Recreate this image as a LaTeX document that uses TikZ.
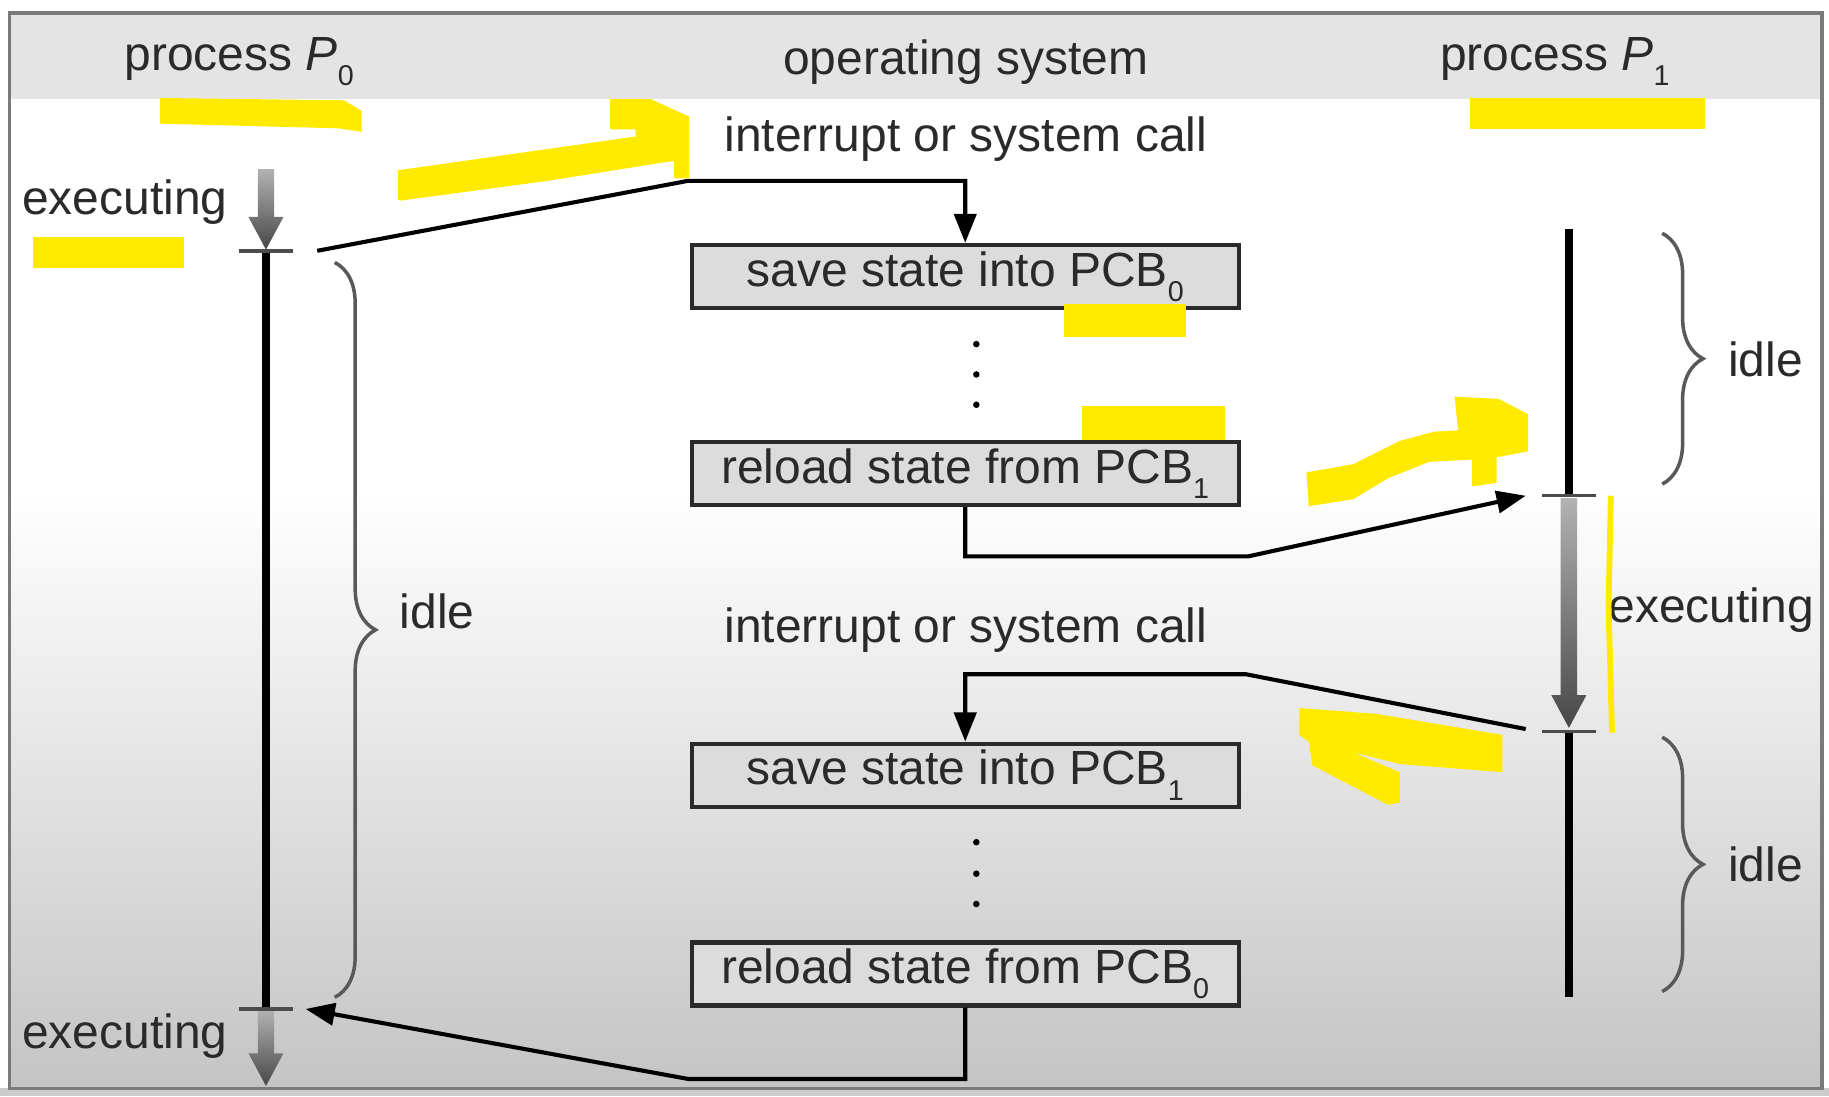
\documentclass[tikz,border=0pt]{standalone}
\usepackage{fontspec}
\setmainfont{Liberation Sans}
\usetikzlibrary{arrows.meta,decorations.pathreplacing,calc}
\definecolor{inkgray}{HTML}{2A2A2A}
\definecolor{bandgray}{HTML}{E4E4E4}
\definecolor{boxgray}{HTML}{DCDCDC}
\definecolor{framegray}{HTML}{7A7A7A}
\definecolor{hilite}{HTML}{FFEA00}
\newcommand{\lowsub}[1]{\raisebox{-0.6ex}{\scriptsize #1}}
\tikzset{
  txt/.style={font=\fontsize{11.7pt}{14pt}\selectfont, text=inkgray, inner sep=0pt, yshift=-0.3mm},
  statebox/.style={rectangle, draw=inkgray, fill=boxgray, line width=0.35mm,
    minimum width=46.9mm, minimum height=5.4mm, inner sep=0pt,
    font=\fontsize{11.7pt}{14pt}\selectfont, text=inkgray},
  flow/.style={-{Triangle[length=2.5mm,width=1.9mm]}, line width=0.35mm, black},
  timeline/.style={line width=0.7mm, black},
  tick/.style={line width=0.3mm, black!70},
  idlebrace/.style={decorate, decoration={brace, amplitude=3.5mm}, line width=0.3mm, black!65},
  execarrow/.style={top color=black!30, bottom color=black!72},
  marker/.style={fill=hilite, draw=none},
}

\begin{document}
\begin{tikzpicture}[x=0.1mm, y=-0.1mm]
  \useasboundingbox (0,0) rectangle (1568,940);
  % background and frame
  \fill[white] (0,0) rectangle (1568,940);
  \fill[black!20] (0,933) rectangle (1568,940);
  \fill[white] (8,85) rectangle (1562,420);
  \shade[top color=white, bottom color=black!23] (8,420) rectangle (1562,933);
  \fill[bandgray] (8,11) rectangle (1562,85);
  \draw[framegray, line width=0.3mm] (8,11) rectangle (1562,933);

  % column headings
  \node[txt] (head0) at (205,50) {process \textit{P}\lowsub{0}};
  \node[txt] (heados) at (828,50) {operating system};
  \node[txt] (head1) at (1333,50) {process \textit{P}\lowsub{1}};

  % operating system steps
  \node[txt] (call0) at (828,116) {interrupt or system call};
  \node[statebox] (save0) at (827.5,237) {save state into PCB\lowsub{0}};
  \node[statebox] (reload1) at (827.5,406) {reload state from PCB\lowsub{1}};
  \node[txt] (call1) at (828,537) {interrupt or system call};
  \node[statebox] (save1) at (827.5,664.5) {save state into PCB\lowsub{1}};
  \node[statebox] (reload0) at (827.5,835) {reload state from PCB\lowsub{0}};
  \foreach \y in {295,321,347,722,749,775}
    \fill[black] (837,\y) circle[radius=0.28mm];

  % time lines
  \coordinate (p0s) at (228,215);
  \coordinate (p0e) at (228,865);
  \coordinate (p1s) at (1345,425);
  \coordinate (p1e) at (1345,627);
  \foreach \x/\ya/\yb in {228/145/214, 228/866/931, 1345/427/624}
    \shade[execarrow] (\x-7,\ya) -- (\x+7,\ya) -- (\x+7,\yb-28) -- (\x+15,\yb-28)
      -- (\x,\yb) -- (\x-15,\yb-28) -- (\x-7,\yb-28) -- cycle;
  \draw[timeline] (p0s) -- (p0e);
  \draw[timeline] (1345,196) -- (p1s);
  \draw[timeline] (p1e) -- (1345,855);
  \foreach \c in {p0s,p0e,p1s,p1e}
    \draw[tick] ([xshift=-2.3mm]\c) -- ([xshift=2.3mm]\c);

  \node[txt] (exec0) at (107,170) {executing};
  \node[txt] (exec2) at (107,885) {executing};
  \node[txt] (exec1) at (1467,520) {executing};

  % idle braces
  \draw[idlebrace] (287,225) -- (287,855);
  \draw[idlebrace] (1425,200) -- (1425,415);
  \draw[idlebrace] (1425,632) -- (1425,850);
  \node[txt, anchor=west] (idle0) at (342,521) {idle};
  \node[txt, anchor=west] (idle1) at (1481,305) {idle};
  \node[txt, anchor=west] (idle2) at (1481,738) {idle};

  % switches
  \coordinate (p0out) at (272,215);
  \coordinate (p0in) at (262,865);
  \coordinate (p1in) at (1308,425);
  \coordinate (p1out) at (1308,625);
  \draw[flow] (p0out) -- (590,155) -| (save0.north);
  \draw[flow] (reload1.south) |- (1070,477) -- (p1in);
  \draw[flow] (p1out) -- (1068,578) -| (save1.north);
  \draw[flow] (reload0.south) |- (590,925) -- (p0in);

  % highlighter marks
  \fill[marker] (137,84) -- (295,86) -- (310,95) -- (310,113) -- (290,110) -- (137,106) -- cycle;
  \fill[marker] (341,171) -- (341,146) -- (545,117) -- (545,111) -- (523,111) -- (523,85) -- (558,85)
    -- (591,100) -- (591,153) -- (578,153) -- (578,138) -- (564,140) -- (470,155) -- (343,172) -- cycle;
  \fill[marker] (28,203) rectangle (158,230);
  \fill[marker] (1260,84) rectangle (1462,111);
  \fill[marker] (912,261) rectangle (1017,289);
  \fill[marker] (928,348) rectangle (1050,377);
  \fill[marker] (1120,405) -- (1160,398) -- (1200,378) -- (1230,370) -- (1250,369) -- (1247,340)
    -- (1285,342) -- (1310,355) -- (1310,387) -- (1283,392) -- (1283,414) -- (1262,417)
    -- (1262,394) -- (1225,396) -- (1190,410) -- (1160,428) -- (1122,434) -- cycle;
  \draw[hilite, line width=0.5mm] (1381,425) -- (1379,520) -- (1382,628);
  \fill[marker] (1114,607) -- (1180,612) -- (1288,630) -- (1288,662) -- (1200,655) -- (1160,645)
    -- (1200,662) -- (1200,688) -- (1190,690) -- (1125,656) -- (1122,636) -- (1114,630) -- cycle;
\end{tikzpicture}
\end{document}
